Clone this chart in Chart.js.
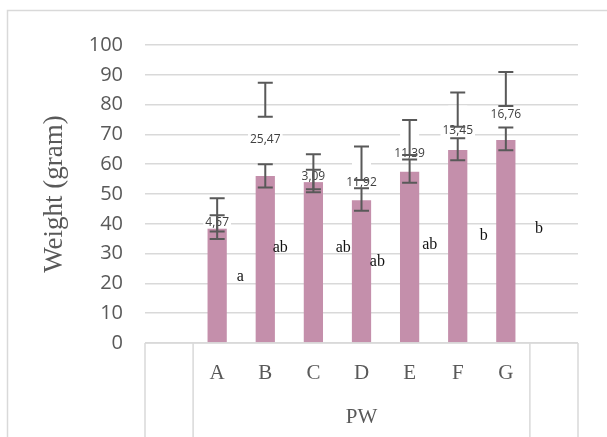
<!DOCTYPE html>
<html><head><meta charset="utf-8">
<script src="https://cdn.jsdelivr.net/npm/chart.js@4.4.0/dist/chart.umd.min.js"></script>
<style>html,body{margin:0;padding:0;background:#fff;}#wrap{width:607px;height:437px;position:relative;}</style>
</head><body><div id="wrap"><canvas id="c" width="607" height="437"></canvas></div>
<script>
const categories = ['A','B','C','D','E','F','G'];
const groupLabel = 'PW';
const yTitle = 'Weight (gram)';
const barValues = [38.5, 56.0, 54.4, 47.9, 57.5, 64.8, 68.1];
const barErrHigh = [42.9, 60.0, 58.1, 51.9, 61.6, 68.7, 72.3];
const barErrLow = [34.9, 52.2, 50.6, 44.4, 53.8, 61.3, 64.7];
const upperErrHigh = [48.6, 87.3, 63.3, 65.9, 74.8, 84.1, 90.9];
const upperErrLow = [37.4, 75.9, 51.6, 54.7, 63.1, 72.6, 79.5];
const valueLabels = ['4,57','25,47','3,09','11,92','11,39','13,45','16,76'];
const valueLabelAt = [40.4, 68.1, 56.0, 53.8, 63.4, 71.2, 76.5];
const letters = ['a','ab','ab','ab','ab','b','b'];
const letterAt = [22.2, 31.8, 31.8, 27.3, 32.9, 35.9, 38.2];
const letterShift = [0.48, 0.31, 0.62, 0.33, 0.42, 0.54, 0.69];
const yMin = 0, yMax = 100, yStep = 10;

const axisLabels = [''].concat(categories, ['']);
const barData = [null].concat(barValues, [null]);

const GRID = '#d9d9d9', TXT = '#595959', ERR = '#595959';

const decor = {
  id: 'decor',
  beforeDraw(chart) {
    const ctx = chart.ctx;
    ctx.save();
    ctx.fillStyle = '#fff';
    ctx.fillRect(0, 0, chart.width, chart.height);
    ctx.strokeStyle = GRID; ctx.lineWidth = 1.5;
    ctx.beginPath();
    ctx.moveTo(7.5, chart.height); ctx.lineTo(7.5, 10.5); ctx.lineTo(chart.width, 10.5);
    ctx.stroke();
    ctx.restore();
  },
  afterDatasetsDraw(chart) {
    const ctx = chart.ctx, xs = chart.scales.x, ys = chart.scales.y, ca = chart.chartArea;
    ctx.save();
    const n = axisLabels.length;
    const bounds = [xs.getPixelForValue(-0.5), xs.getPixelForValue(0.5), xs.getPixelForValue(n - 1.5), xs.getPixelForValue(n - 0.5)];
    ctx.strokeStyle = GRID; ctx.lineWidth = 1.5;
    ctx.beginPath();
    ctx.moveTo(bounds[0], ca.bottom); ctx.lineTo(bounds[3], ca.bottom);
    bounds.forEach(b => { ctx.moveTo(b, ca.bottom); ctx.lineTo(b, chart.height); });
    ctx.stroke();

    ctx.fillStyle = '#fff';
    categories.forEach((c, i) => {
      const x = xs.getPixelForValue(i + 1);
      const yc = ys.getPixelForValue((upperErrHigh[i] + upperErrLow[i]) / 2);
      ctx.fillRect(x - 9.5, yc - 4, 19, 8);
    });

    ctx.font = '12px "Open Sans"';
    ctx.textAlign = 'center'; ctx.textBaseline = 'middle';
    valueLabels.forEach((t, i) => {
      const x = xs.getPixelForValue(i + 1);
      const y = ys.getPixelForValue(valueLabelAt[i]);
      const w = ctx.measureText(t).width;
      ctx.fillStyle = '#fff';
      ctx.fillRect(x - w / 2 - 2, y - 6, w + 4, 12);
      ctx.fillStyle = '#404040';
      ctx.fillText(t, x, y);
    });

    ctx.font = '16px "Liberation Serif"';
    ctx.fillStyle = '#111';
    letters.forEach((t, i) => {
      const x = xs.getPixelForValue(i + 1 + letterShift[i]);
      const y = ys.getPixelForValue(letterAt[i]);
      ctx.fillText(t, x, y);
    });

    ctx.strokeStyle = ERR; ctx.lineWidth = 2;
    const drawErr = (x, hi, lo) => {
      const yh = ys.getPixelForValue(hi), yl = ys.getPixelForValue(lo);
      ctx.beginPath();
      ctx.moveTo(x, yh); ctx.lineTo(x, yl);
      ctx.moveTo(x - 7.5, yh); ctx.lineTo(x + 7.5, yh);
      ctx.moveTo(x - 7.5, yl); ctx.lineTo(x + 7.5, yl);
      ctx.stroke();
    };
    categories.forEach((c, i) => {
      const x = xs.getPixelForValue(i + 1);
      drawErr(x, upperErrHigh[i], upperErrLow[i]);
      drawErr(x, barErrHigh[i], barErrLow[i]);
    });
    ctx.restore();
  }
};

new Chart(document.getElementById('c'), {
  type: 'bar',
  data: {
    labels: axisLabels,
    datasets: [{
      data: barData,
      backgroundColor: '#C48FAB',
      borderWidth: 0,
      categoryPercentage: 1,
      barPercentage: 0.4
    }]
  },
  options: {
    responsive: false,
    animation: false,
    devicePixelRatio: 1,
    layout: { padding: { left: 39, top: 45, right: 29, bottom: 0 } },
    plugins: { legend: { display: false }, tooltip: { enabled: false } },
    scales: {
      x: {
        grid: { display: false },
        border: { display: false },
        ticks: { font: { family: 'Liberation Serif', size: 21 }, color: TXT, padding: 10, maxRotation: 0, autoSkip: false },
        title: { display: true, text: groupLabel, font: { family: 'Liberation Serif', size: 21, lineHeight: 1.9 }, color: TXT, padding: 0 },
        afterFit(s) { s.height = 94; }
      },
      y: {
        min: yMin, max: yMax,
        grid: { color: GRID, lineWidth: 1.5, drawTicks: false },
        border: { display: false },
        ticks: { stepSize: yStep, font: { family: 'Open Sans', size: 20 }, color: TXT, padding: 22 },
        title: { display: true, text: yTitle, font: { family: 'Liberation Serif', size: 27, lineHeight: 1.2 }, color: TXT, padding: 0 },
        afterFit(s) { s.width = 106; }
      }
    }
  },
  plugins: [decor]
});
</script></body></html>
